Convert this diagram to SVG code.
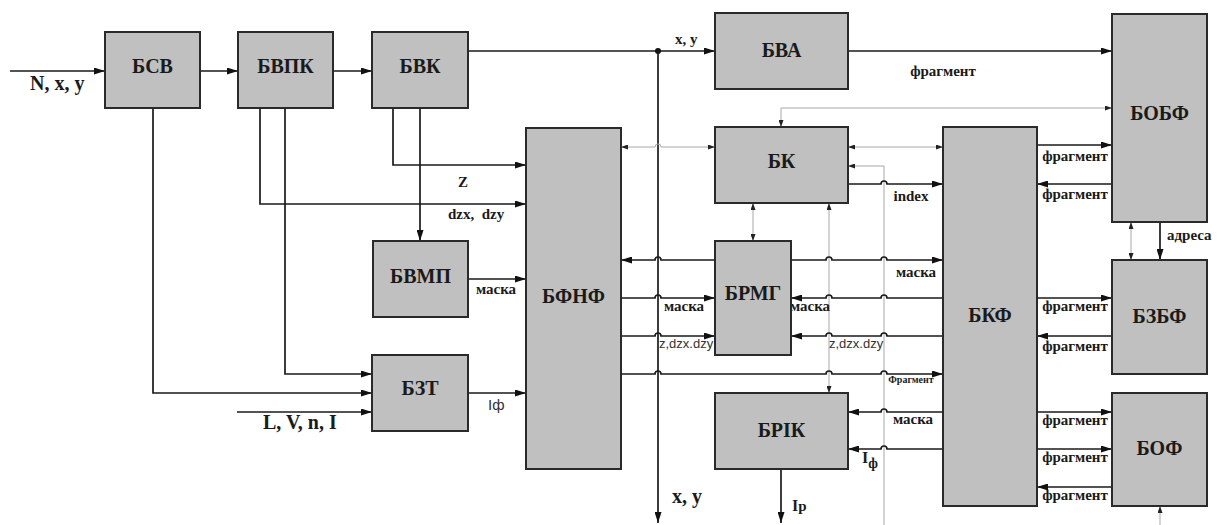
<svg xmlns="http://www.w3.org/2000/svg" width="1217" height="525" viewBox="0 0 1217 525">
<style>
.box{fill:#c0c0c0;stroke:#2a2a2a;stroke-width:2}
.bl{font-family:"Liberation Serif",serif;font-weight:bold;font-size:20px;fill:#1a1a1a;text-anchor:middle}
.w{fill:none;stroke:#1a1a1a;stroke-width:1.7}
.g{fill:none;stroke:#a8a8a8;stroke-width:1}
.lb{font-family:"Liberation Serif",serif;font-weight:bold;font-size:15px;fill:#1a1a1a}
.ls{font-family:"Liberation Sans",sans-serif;font-size:13px;fill:#333}
.m{text-anchor:middle}
</style>
<defs>
<marker id="a" viewBox="0 0 11 7" refX="11" refY="3.5" markerWidth="11" markerHeight="7" markerUnits="userSpaceOnUse" orient="auto-start-reverse"><path d="M0,0 L11,3.5 L0,7 z" fill="#111"/></marker>
<marker id="ga" viewBox="0 0 7 5" refX="7" refY="2.5" markerWidth="7" markerHeight="5" markerUnits="userSpaceOnUse" orient="auto-start-reverse"><path d="M0,0 L7,2.5 L0,5 z" fill="#222"/></marker>
</defs>
<g id="connectors">
<path class="w" d="M10 71 H105" marker-end="url(#a)"/>
<path class="w" d="M200 71 H238" marker-end="url(#a)"/>
<path class="w" d="M333 71 H372" marker-end="url(#a)"/>
<path class="w" d="M468 51 H715" marker-end="url(#a)"/>
<circle cx="658" cy="51" r="3" fill="#111"/>
<path class="w" d="M658 51 V523" marker-end="url(#a)"/>
<path class="w" d="M848 51 H1112" marker-end="url(#a)"/>
<path class="g" d="M1112 108 H781 V127" marker-start="url(#ga)" marker-end="url(#ga)"/>
<path class="w" d="M153 108 V393 H372" marker-end="url(#a)"/>
<path class="w" d="M260 108 V204 H526" marker-end="url(#a)"/>
<path class="w" d="M285 108 V374 H372" marker-end="url(#a)"/>
<path class="w" d="M393 108 V165 H526" marker-end="url(#a)"/>
<path class="w" d="M420 108 V241" marker-end="url(#a)"/>
<path class="w" d="M468 279 H526" marker-end="url(#a)"/>
<path class="w" d="M237 412 H372" marker-end="url(#a)"/>
<path class="w" d="M468 393 H526" marker-end="url(#a)"/>
<path class="g" d="M621 147 H655 A3 3 0 0 1 661 147 H715" marker-start="url(#ga)" marker-end="url(#ga)"/>
<path class="g" d="M848 147 H943" marker-start="url(#ga)" marker-end="url(#ga)"/>
<path class="g" d="M884 525 V166 H848" marker-end="url(#ga)"/>
<path class="w" d="M848 184 H881 A3 3 0 0 1 887 184 H943" marker-end="url(#a)"/>
<path class="w" d="M1037 145 H1112" marker-end="url(#a)"/>
<path class="w" d="M1112 184 H1037" marker-end="url(#a)"/>
<path class="g" d="M1131 222 V260" marker-start="url(#ga)" marker-end="url(#ga)"/>
<path class="w" d="M1160 222 V260" marker-end="url(#a)"/>
<path class="w" d="M1037 298 H1112" marker-end="url(#a)"/>
<path class="w" d="M1112 336 H1037" marker-end="url(#a)"/>
<path class="w" d="M1037 412 H1112" marker-end="url(#a)"/>
<path class="w" d="M1037 449 H1112" marker-end="url(#a)"/>
<path class="w" d="M1112 487 H1037" marker-end="url(#a)"/>
<path class="g" d="M1160 525 V506" marker-end="url(#ga)"/>
<path class="g" d="M753 203 V241" marker-start="url(#ga)" marker-end="url(#ga)"/>
<path class="g" d="M829 203 V393" marker-start="url(#ga)" marker-end="url(#ga)"/>
<path class="w" d="M621 260 H655 A3 3 0 0 1 661 260 H715" marker-start="url(#a)"/>
<path class="w" d="M791 260 H826 A3 3 0 0 1 832 260 H881 A3 3 0 0 1 887 260 H943" marker-end="url(#a)"/>
<path class="w" d="M621 298 H655 A3 3 0 0 1 661 298 H715" marker-end="url(#a)"/>
<path class="w" d="M791 298 H826 A3 3 0 0 1 832 298 H881 A3 3 0 0 1 887 298 H943" marker-start="url(#a)"/>
<path class="w" d="M621 336 H655 A3 3 0 0 1 661 336 H715" marker-end="url(#a)"/>
<path class="w" d="M791 336 H826 A3 3 0 0 1 832 336 H881 A3 3 0 0 1 887 336 H943" marker-start="url(#a)"/>
<path class="w" d="M621 374 H655 A3 3 0 0 1 661 374 H826 A3 3 0 0 1 832 374 H881 A3 3 0 0 1 887 374 H943" marker-end="url(#a)"/>
<path class="w" d="M848 412 H881 A3 3 0 0 1 887 412 H943" marker-start="url(#a)"/>
<path class="w" d="M848 449 H881 A3 3 0 0 1 887 449 H943" marker-start="url(#a)"/>
<path class="w" d="M781 469 V523" marker-end="url(#a)"/>
</g>
<g id="labels">
<text class="lb" x="30" y="90" style="font-size:20px">N, x, y</text>
<text class="lb" x="675" y="44">x, y</text>
<text class="lb m" x="943" y="76">фрагмент</text>
<text class="lb m" x="463" y="187">Z</text>
<text class="lb" x="448" y="219" xml:space="preserve">dzx,  dzy</text>
<text class="lb m" x="496" y="294">маска</text>
<text class="lb" x="263" y="429" style="font-size:20px">L, V, n, I</text>
<text class="ls" x="488" y="410" style="font-size:15px">Iф</text>
<text class="lb m" x="911" y="201">index</text>
<text class="lb m" x="1075" y="161">фрагмент</text>
<text class="lb m" x="1075" y="199">фрагмент</text>
<text class="lb" x="1167" y="240">адреса</text>
<text class="lb m" x="1075" y="311">фрагмент</text>
<text class="lb m" x="1075" y="351">фрагмент</text>
<text class="lb m" x="1075" y="425">фрагмент</text>
<text class="lb m" x="1075" y="462">фрагмент</text>
<text class="lb m" x="1075" y="500">фрагмент</text>
<text class="lb m" x="916" y="277">маска</text>
<text class="lb m" x="684" y="311">маска</text>
<text class="lb m" x="810" y="311">маска</text>
<text class="ls" x="659" y="348">z,dzx.dzy</text>
<text class="ls" x="829" y="348">z,dzx.dzy</text>
<text class="lb m" x="911" y="383" style="font-size:10px">Фрагмент</text>
<text class="lb m" x="913" y="424">маска</text>
<text class="lb" x="862" y="463" style="font-size:16px">I<tspan dy="5" style="font-size:14px">ф</tspan></text>
<text class="lb" x="672" y="503" style="font-size:20px">x, y</text>
<text class="lb" x="792" y="511" style="font-size:16px">I<tspan style="font-size:15px">p</tspan></text>
</g>
<g id="BSV"><rect class="box" x="105" y="32" width="95" height="76"/><text class="bl" x="152.5" y="73">БСВ</text></g>
<g id="BVPK"><rect class="box" x="238" y="32" width="95" height="76"/><text class="bl" x="285.5" y="73">БВПК</text></g>
<g id="BVK"><rect class="box" x="372" y="32" width="96" height="76"/><text class="bl" x="420" y="73">БВК</text></g>
<g id="BVA"><rect class="box" x="715" y="13" width="133" height="76"/><text class="bl" x="781.5" y="57">БВА</text></g>
<g id="BOBF"><rect class="box" x="1112" y="14" width="95" height="208"/><text class="bl" x="1159.5" y="120">БОБФ</text></g>
<g id="BFNF"><rect class="box" x="526" y="128" width="95" height="341"/><text class="bl" x="573.5" y="303">БФНФ</text></g>
<g id="BK"><rect class="box" x="715" y="127" width="133" height="76"/><text class="bl" x="781.5" y="168">БК</text></g>
<g id="BKF"><rect class="box" x="943" y="127" width="94" height="379"/><text class="bl" x="990" y="322">БКФ</text></g>
<g id="BVMP"><rect class="box" x="373" y="241" width="95" height="76"/><text class="bl" x="420.5" y="283">БВМП</text></g>
<g id="BRMG"><rect class="box" x="715" y="241" width="76" height="114"/><text class="bl" x="753" y="300">БРМГ</text></g>
<g id="BZBF"><rect class="box" x="1112" y="260" width="95" height="114"/><text class="bl" x="1159.5" y="323">БЗБФ</text></g>
<g id="BZT"><rect class="box" x="372" y="355" width="96" height="76"/><text class="bl" x="420" y="395">БЗТ</text></g>
<g id="BRIK"><rect class="box" x="715" y="393" width="133" height="76"/><text class="bl" x="781.5" y="437">БРІК</text></g>
<g id="BOF"><rect class="box" x="1112" y="393" width="95" height="113"/><text class="bl" x="1159.5" y="455">БОФ</text></g>
</svg>
